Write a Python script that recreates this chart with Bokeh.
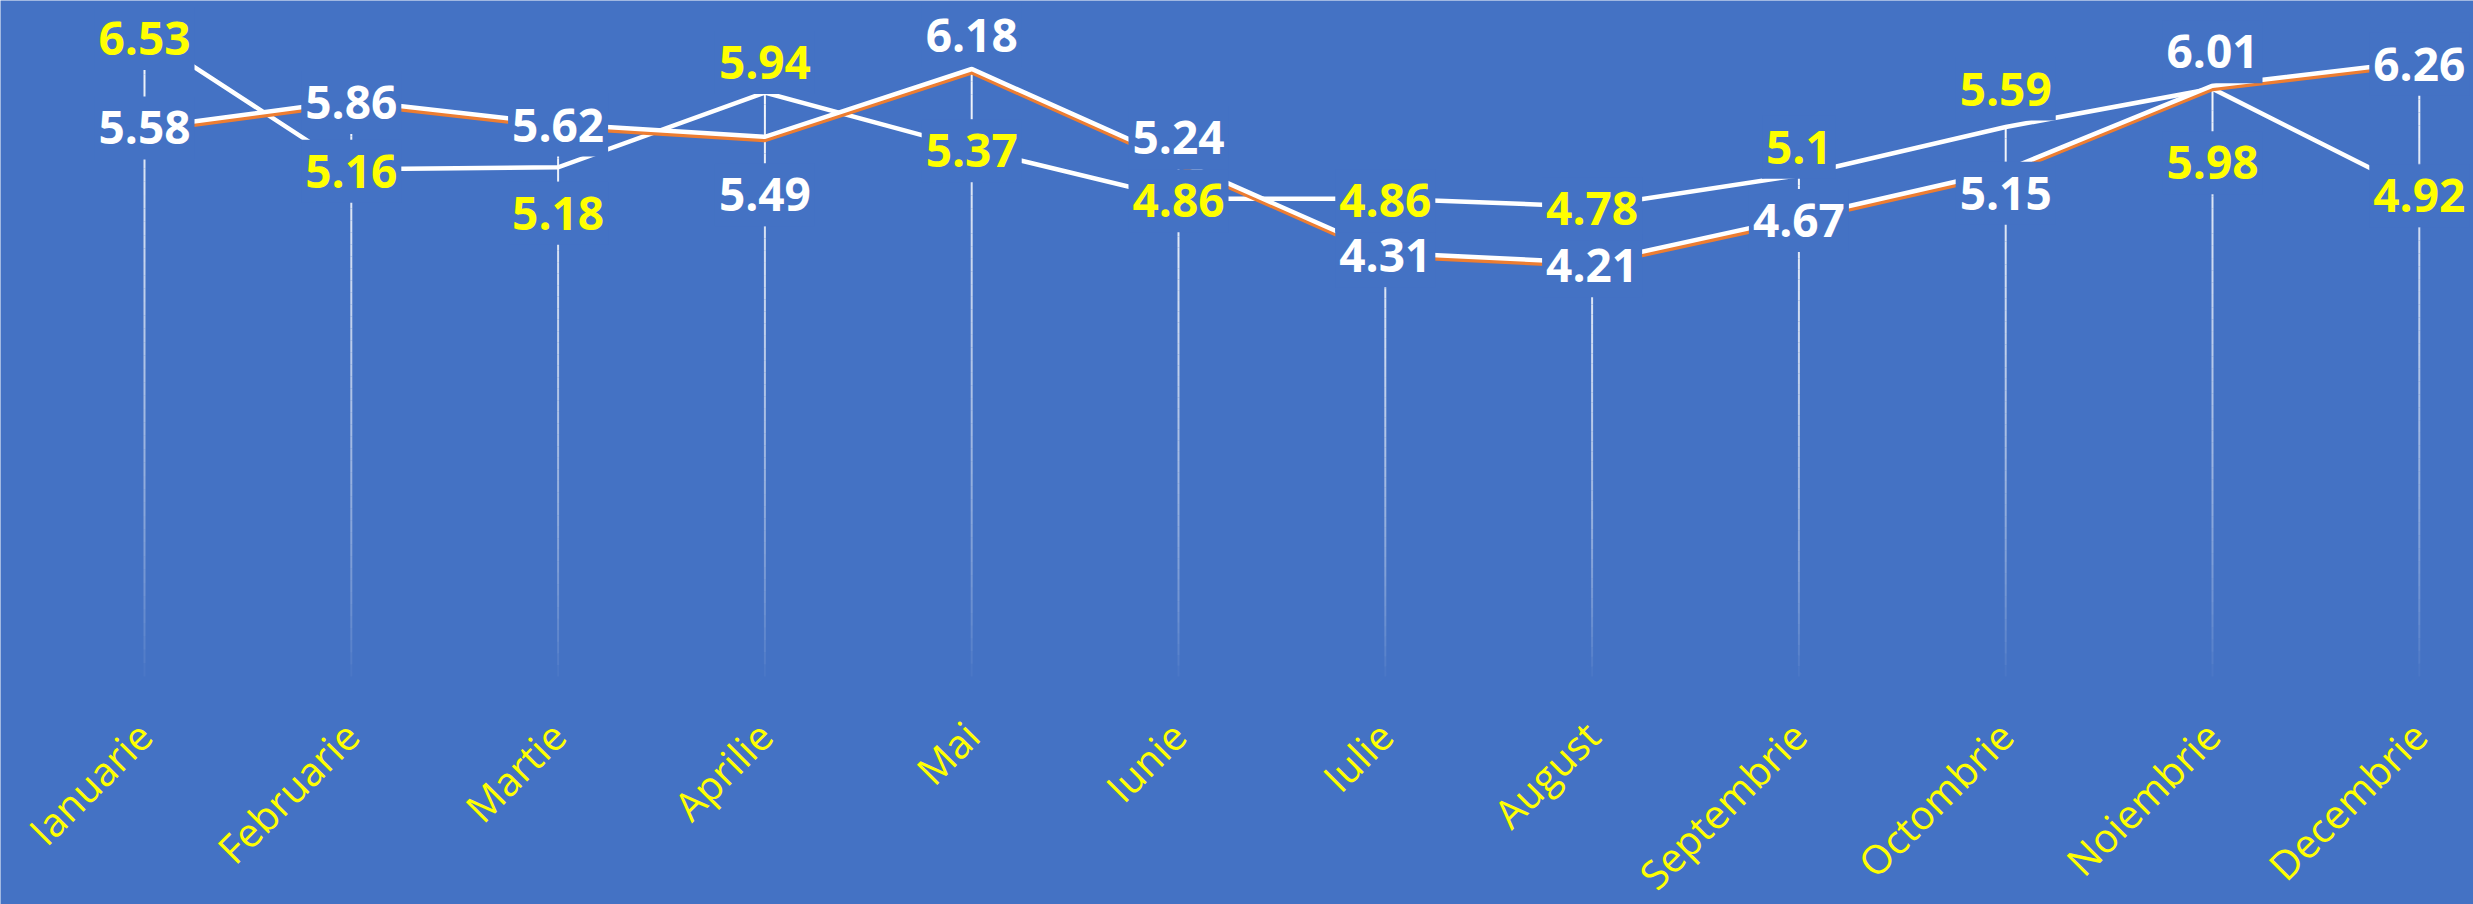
import math
from bokeh.plotting import figure
from bokeh.models import Range1d, ColumnDataSource
from bokeh.core.properties import value
from bokeh.embed import file_html
from bokeh.resources import INLINE

# ---------------- data ----------------
months = ["Ianuarie", "Februarie", "Martie", "Aprilie", "Mai", "Iunie",
          "Iulie", "August", "Septembrie", "Octombrie", "Noiembrie", "Decembrie"]
values_white = [5.58, 5.86, 5.62, 5.49, 6.18, 5.24, 4.31, 4.21, 4.67, 5.15, 6.01, 6.26]
values_yellow = [6.53, 5.16, 5.18, 5.94, 5.37, 4.86, 4.86, 4.78, 5.1, 5.59, 5.98, 4.92]

# ---------------- style ----------------
# data label placement relative to its point, screen px (positive = down)
white_label_shift = [0, 2, 1, 58, -34, -24, 3, 3, 3, 23, -34, 3]
yellow_label_shift = [4, 2, 46, -30, 2, 2, 2, 2, -28, -38, 74, 3]

BG = "#4472C4"
ORANGE = "#ED7D31"
YELLOW = "#FFFF00"
W, H = 2473, 904
PX_X = 206.8      # px per category
PX_Y = 98.3       # px per value unit
X0_PX = 144       # screen x of first category
Y0_PX = 676       # screen y of value 0
SHADOW_PX = 3

x = list(range(len(months)))

p = figure(width=W, height=H, output_backend="svg", toolbar_location=None,
           x_axis_location=None, y_axis_location=None,
           x_range=Range1d(-X0_PX / PX_X, (W - X0_PX) / PX_X),
           y_range=Range1d(-(H - Y0_PX) / PX_Y, Y0_PX / PX_Y),
           background_fill_color=BG, border_fill_color=BG,
           outline_line_color=None, min_border=0)
p.grid.visible = False
sh = SHADOW_PX / PX_Y
p.extra_y_ranges = {"shadow": Range1d(-(H - Y0_PX) / PX_Y + sh, Y0_PX / PX_Y + sh)}

# drop lines with a fading gradient (white at top -> transparent at axis)
N = 48
seg = dict(x0=[], y0=[], x1=[], y1=[], a=[])
for i in x:
    top = max(values_white[i], values_yellow[i])
    for j in range(N):
        seg["x0"].append(i)
        seg["x1"].append(i)
        seg["y0"].append(top * (1 - j / N))
        seg["y1"].append(top * (1 - (j + 1) / N))
        seg["a"].append(0.95 * (1 - (j + 0.5) / N) ** 0.7)
p.segment(x0="x0", y0="y0", x1="x1", y1="y1", source=ColumnDataSource(seg),
          line_color="white", line_alpha="a", line_width=2)

# lines
p.line(x, values_yellow, line_color="white", line_width=4.5, line_join="miter")
p.line(x, values_white, line_color=ORANGE, line_width=5, line_join="miter",
       y_range_name="shadow")
p.line(x, values_white, line_color="white", line_width=4.5, line_join="miter")

# data labels with background boxes
for vals, shifts, col in ((values_white, white_label_shift, "white"),
                          (values_yellow, yellow_label_shift, YELLOW)):
    src = ColumnDataSource(dict(x=x, y=vals, t=[str(v) for v in vals], dy=shifts))
    p.text(x="x", y="y", text="t", y_offset="dy", source=src,
           text_color=col, text_font=value("Open Sans"), text_font_style="bold",
           text_font_size="46px", text_align="center", text_baseline="middle",
           background_fill_color=BG, padding=(4, 15))

# category labels
p.text(x=x, y=[0] * len(x), text=months, angle=math.pi / 4,
       x_offset=0, y_offset=52,
       text_color=YELLOW, text_font=value("Open Sans"), text_font_size="40px",
       text_align="right", text_baseline="middle")

open("out.html", "w").write(file_html(p, INLINE))
